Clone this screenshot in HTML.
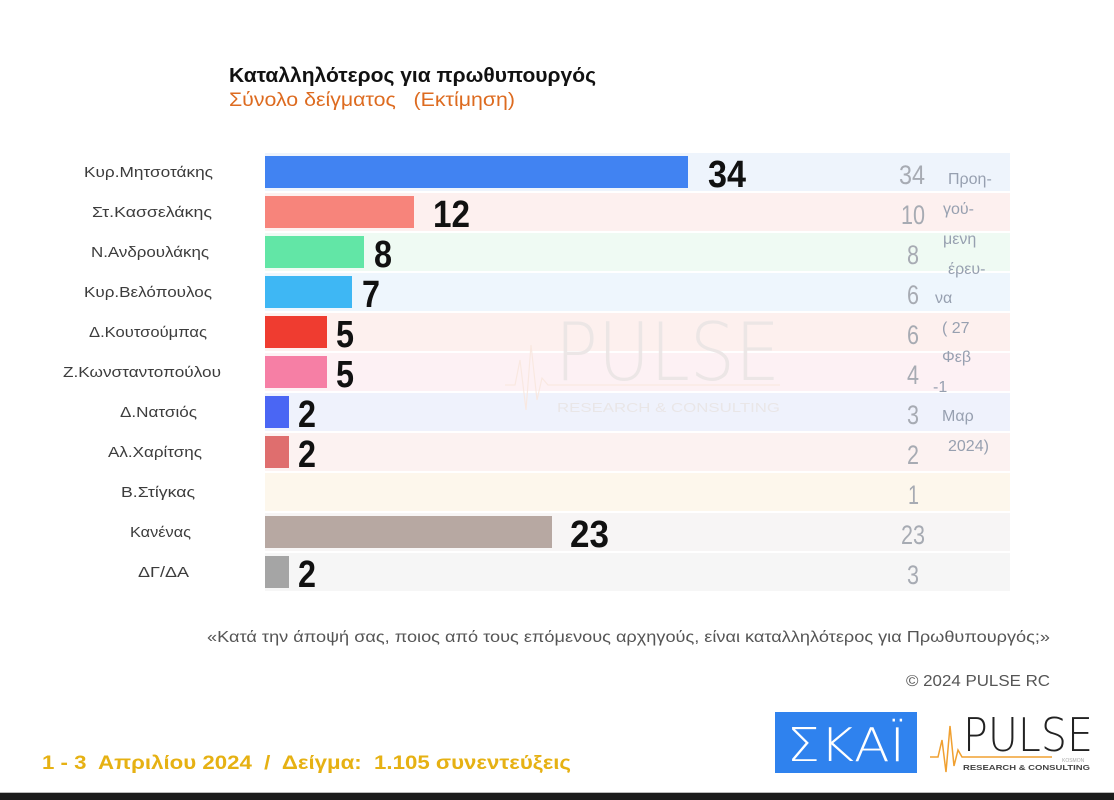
<!DOCTYPE html>
<html><head><meta charset="utf-8"><style>
html,body{margin:0;padding:0;background:#fff;}
svg{display:block;}
text{font-family:"Liberation Sans Narrow","Liberation Sans","Noto Sans CJK SC",sans-serif;}
</style></head><body>
<svg width="1114" height="800" viewBox="0 0 1114 800" xmlns="http://www.w3.org/2000/svg">
<rect x="0" y="0" width="1114" height="800" fill="#fff"/>
<!-- title -->
<text x="229" y="82" font-size="20" font-weight="bold" fill="#111" textLength="367" lengthAdjust="spacingAndGlyphs">Καταλληλότερος για πρωθυπουργός</text>
<text x="229" y="106" font-size="19" fill="#dd6b20" textLength="286" lengthAdjust="spacingAndGlyphs" xml:space="preserve">Σύνολο δείγματος   (Εκτίμηση)</text>

<!-- bands -->
<g>
<rect x="265" y="153" width="745" height="38" fill="#eef4fc"/>
<rect x="265" y="193" width="745" height="38" fill="#fdf0ef"/>
<rect x="265" y="233" width="745" height="38" fill="#effaf3"/>
<rect x="265" y="273" width="745" height="38" fill="#eef6fd"/>
<rect x="265" y="313" width="745" height="38" fill="#fdf0ee"/>
<rect x="265" y="353" width="745" height="38" fill="#fdf1f4"/>
<rect x="265" y="393" width="745" height="38" fill="#eff2fc"/>
<rect x="265" y="433" width="745" height="38" fill="#fcf2f1"/>
<rect x="265" y="473" width="745" height="38" fill="#fdf7ec"/>
<rect x="265" y="513" width="745" height="38" fill="#f7f5f5"/>
<rect x="265" y="553" width="745" height="38" fill="#f6f6f6"/>
</g>

<!-- watermark -->
<g opacity="0.9">
<text x="555" y="380" font-size="80" fill="#ebe5e5" textLength="225" lengthAdjust="spacingAndGlyphs" style="font-family:'DejaVu Sans','Liberation Sans',sans-serif;font-weight:200">PULSE</text>
<text x="557" y="412" font-size="13" fill="#e9e5e5" textLength="223" lengthAdjust="spacingAndGlyphs">RESEARCH &amp; CONSULTING</text>
<polyline points="505,385 515,385 520,360 526,410 531,345 537,400 542,378 548,385 780,385" fill="none" stroke="#f9e8df" stroke-width="1.2"/>
</g>

<!-- bars -->
<rect x="265" y="156" width="423" height="32" fill="#4183f2"/>
<rect x="265" y="196" width="149" height="32" fill="#f7847b"/>
<rect x="265" y="236" width="99" height="32" fill="#62e6a6"/>
<rect x="265" y="276" width="87" height="32" fill="#3eb7f4"/>
<rect x="265" y="316" width="62" height="32" fill="#ef3c30"/>
<rect x="265" y="356" width="62" height="32" fill="#f67fa5"/>
<rect x="265" y="396" width="24" height="32" fill="#4a66f4"/>
<rect x="265" y="436" width="24" height="32" fill="#df6e6e"/>
<rect x="265" y="516" width="287" height="32" fill="#b7a8a2"/>
<rect x="265" y="556" width="24" height="32" fill="#a5a5a5"/>

<!-- value labels -->
<g font-size="38" font-weight="bold" fill="#111">
<text x="708" y="187" textLength="38" lengthAdjust="spacingAndGlyphs">34</text>
<text x="433" y="227" textLength="37" lengthAdjust="spacingAndGlyphs">12</text>
<text x="374" y="267" textLength="18" lengthAdjust="spacingAndGlyphs">8</text>
<text x="362" y="307" textLength="18" lengthAdjust="spacingAndGlyphs">7</text>
<text x="336" y="347" textLength="18" lengthAdjust="spacingAndGlyphs">5</text>
<text x="336" y="387" textLength="18" lengthAdjust="spacingAndGlyphs">5</text>
<text x="298" y="427" textLength="18" lengthAdjust="spacingAndGlyphs">2</text>
<text x="298" y="467" textLength="18" lengthAdjust="spacingAndGlyphs">2</text>
<text x="570" y="547" textLength="39" lengthAdjust="spacingAndGlyphs">23</text>
<text x="298" y="587" textLength="18" lengthAdjust="spacingAndGlyphs">2</text>
</g>

<!-- category labels -->
<g font-size="15" fill="#3c3c3c">
<text x="84" y="177" textLength="129" lengthAdjust="spacingAndGlyphs">Κυρ.Μητσοτάκης</text>
<text x="92" y="217" textLength="120" lengthAdjust="spacingAndGlyphs">Στ.Κασσελάκης</text>
<text x="91" y="257" textLength="118" lengthAdjust="spacingAndGlyphs">Ν.Ανδρουλάκης</text>
<text x="84" y="297" textLength="128" lengthAdjust="spacingAndGlyphs">Κυρ.Βελόπουλος</text>
<text x="89" y="337" textLength="118" lengthAdjust="spacingAndGlyphs">Δ.Κουτσούμπας</text>
<text x="63" y="377" textLength="158" lengthAdjust="spacingAndGlyphs">Ζ.Κωνσταντοπούλου</text>
<text x="120" y="417" textLength="77" lengthAdjust="spacingAndGlyphs">Δ.Νατσιός</text>
<text x="108" y="457" textLength="94" lengthAdjust="spacingAndGlyphs">Αλ.Χαρίτσης</text>
<text x="121" y="497" textLength="74" lengthAdjust="spacingAndGlyphs">Β.Στίγκας</text>
<text x="130" y="537" textLength="61" lengthAdjust="spacingAndGlyphs">Κανένας</text>
<text x="138" y="577" textLength="51" lengthAdjust="spacingAndGlyphs">ΔΓ/ΔΑ</text>
</g>

<!-- previous values -->
<g font-size="27" fill="#a7abb3">
<text x="899" y="184" textLength="26" lengthAdjust="spacingAndGlyphs">34</text>
<text x="901" y="224" textLength="24" lengthAdjust="spacingAndGlyphs">10</text>
<text x="907" y="264" textLength="12" lengthAdjust="spacingAndGlyphs">8</text>
<text x="907" y="304" textLength="12" lengthAdjust="spacingAndGlyphs">6</text>
<text x="907" y="344" textLength="12" lengthAdjust="spacingAndGlyphs">6</text>
<text x="907" y="384" textLength="12" lengthAdjust="spacingAndGlyphs">4</text>
<text x="907" y="424" textLength="12" lengthAdjust="spacingAndGlyphs">3</text>
<text x="907" y="464" textLength="12" lengthAdjust="spacingAndGlyphs">2</text>
<text x="908" y="504" textLength="11" lengthAdjust="spacingAndGlyphs">1</text>
<text x="901" y="544" textLength="24" lengthAdjust="spacingAndGlyphs">23</text>
<text x="907" y="584" textLength="12" lengthAdjust="spacingAndGlyphs">3</text>
</g>

<!-- previous survey note -->
<g font-size="16" fill="#97a0b0">
<text x="948" y="184">Προη-</text>
<text x="943" y="214">γού-</text>
<text x="943" y="244">μενη</text>
<text x="948" y="274">έρευ-</text>
<text x="935" y="303">να</text>
<text x="942" y="333">( 27</text>
<text x="942" y="362">Φεβ</text>
<text x="933" y="392">-1</text>
<text x="942" y="421">Μαρ</text>
<text x="948" y="451">2024)</text>
</g>

<!-- question and copyright -->
<text x="207" y="642" font-size="15.5" fill="#555" textLength="843" lengthAdjust="spacingAndGlyphs">«Κατά την άποψή σας, ποιος από τους επόμενους αρχηγούς, είναι καταλληλότερος για Πρωθυπουργός;»</text>
<text x="906" y="686" font-size="15.5" fill="#555" textLength="144" lengthAdjust="spacingAndGlyphs">© 2024 PULSE RC</text>

<!-- bottom text -->
<text x="42" y="769" font-size="19" font-weight="bold" fill="#e6b113" textLength="529" lengthAdjust="spacingAndGlyphs" xml:space="preserve" style="font-family:'Liberation Sans',sans-serif">1 - 3  Απριλίου 2024  /  Δείγμα:  1.105 συνεντεύξεις</text>

<!-- SKAI logo -->
<rect x="775" y="712" width="142" height="61" fill="#2f82ee"/>
<text x="787" y="761" font-size="46" fill="#fff" textLength="118" lengthAdjust="spacingAndGlyphs" style="font-family:'DejaVu Sans','Liberation Sans',sans-serif;font-weight:200">ΣΚΑΪ</text>

<!-- PULSE logo -->
<text x="963" y="751" font-size="46" fill="#222" textLength="130" lengthAdjust="spacingAndGlyphs" style="font-family:'DejaVu Sans','Liberation Sans',sans-serif;font-weight:200">PULSE</text>
<polyline points="930,757 938,757 942,740 946,772 950,726 954,766 958,750 962,757 1052,757" fill="none" stroke="#f0a030" stroke-width="1.5"/>
<text x="1062" y="762" font-size="5" fill="#aaa">KOSMON</text>
<text x="963" y="770" font-size="7.5" font-weight="bold" fill="#444" textLength="127" lengthAdjust="spacingAndGlyphs">RESEARCH &amp; CONSULTING</text>

<!-- bottom dark bar -->
<rect x="0" y="792" width="1114" height="1" fill="#bbb"/>
<rect x="0" y="793" width="1114" height="7" fill="#1c1c1c"/>
</svg>
</body></html>
